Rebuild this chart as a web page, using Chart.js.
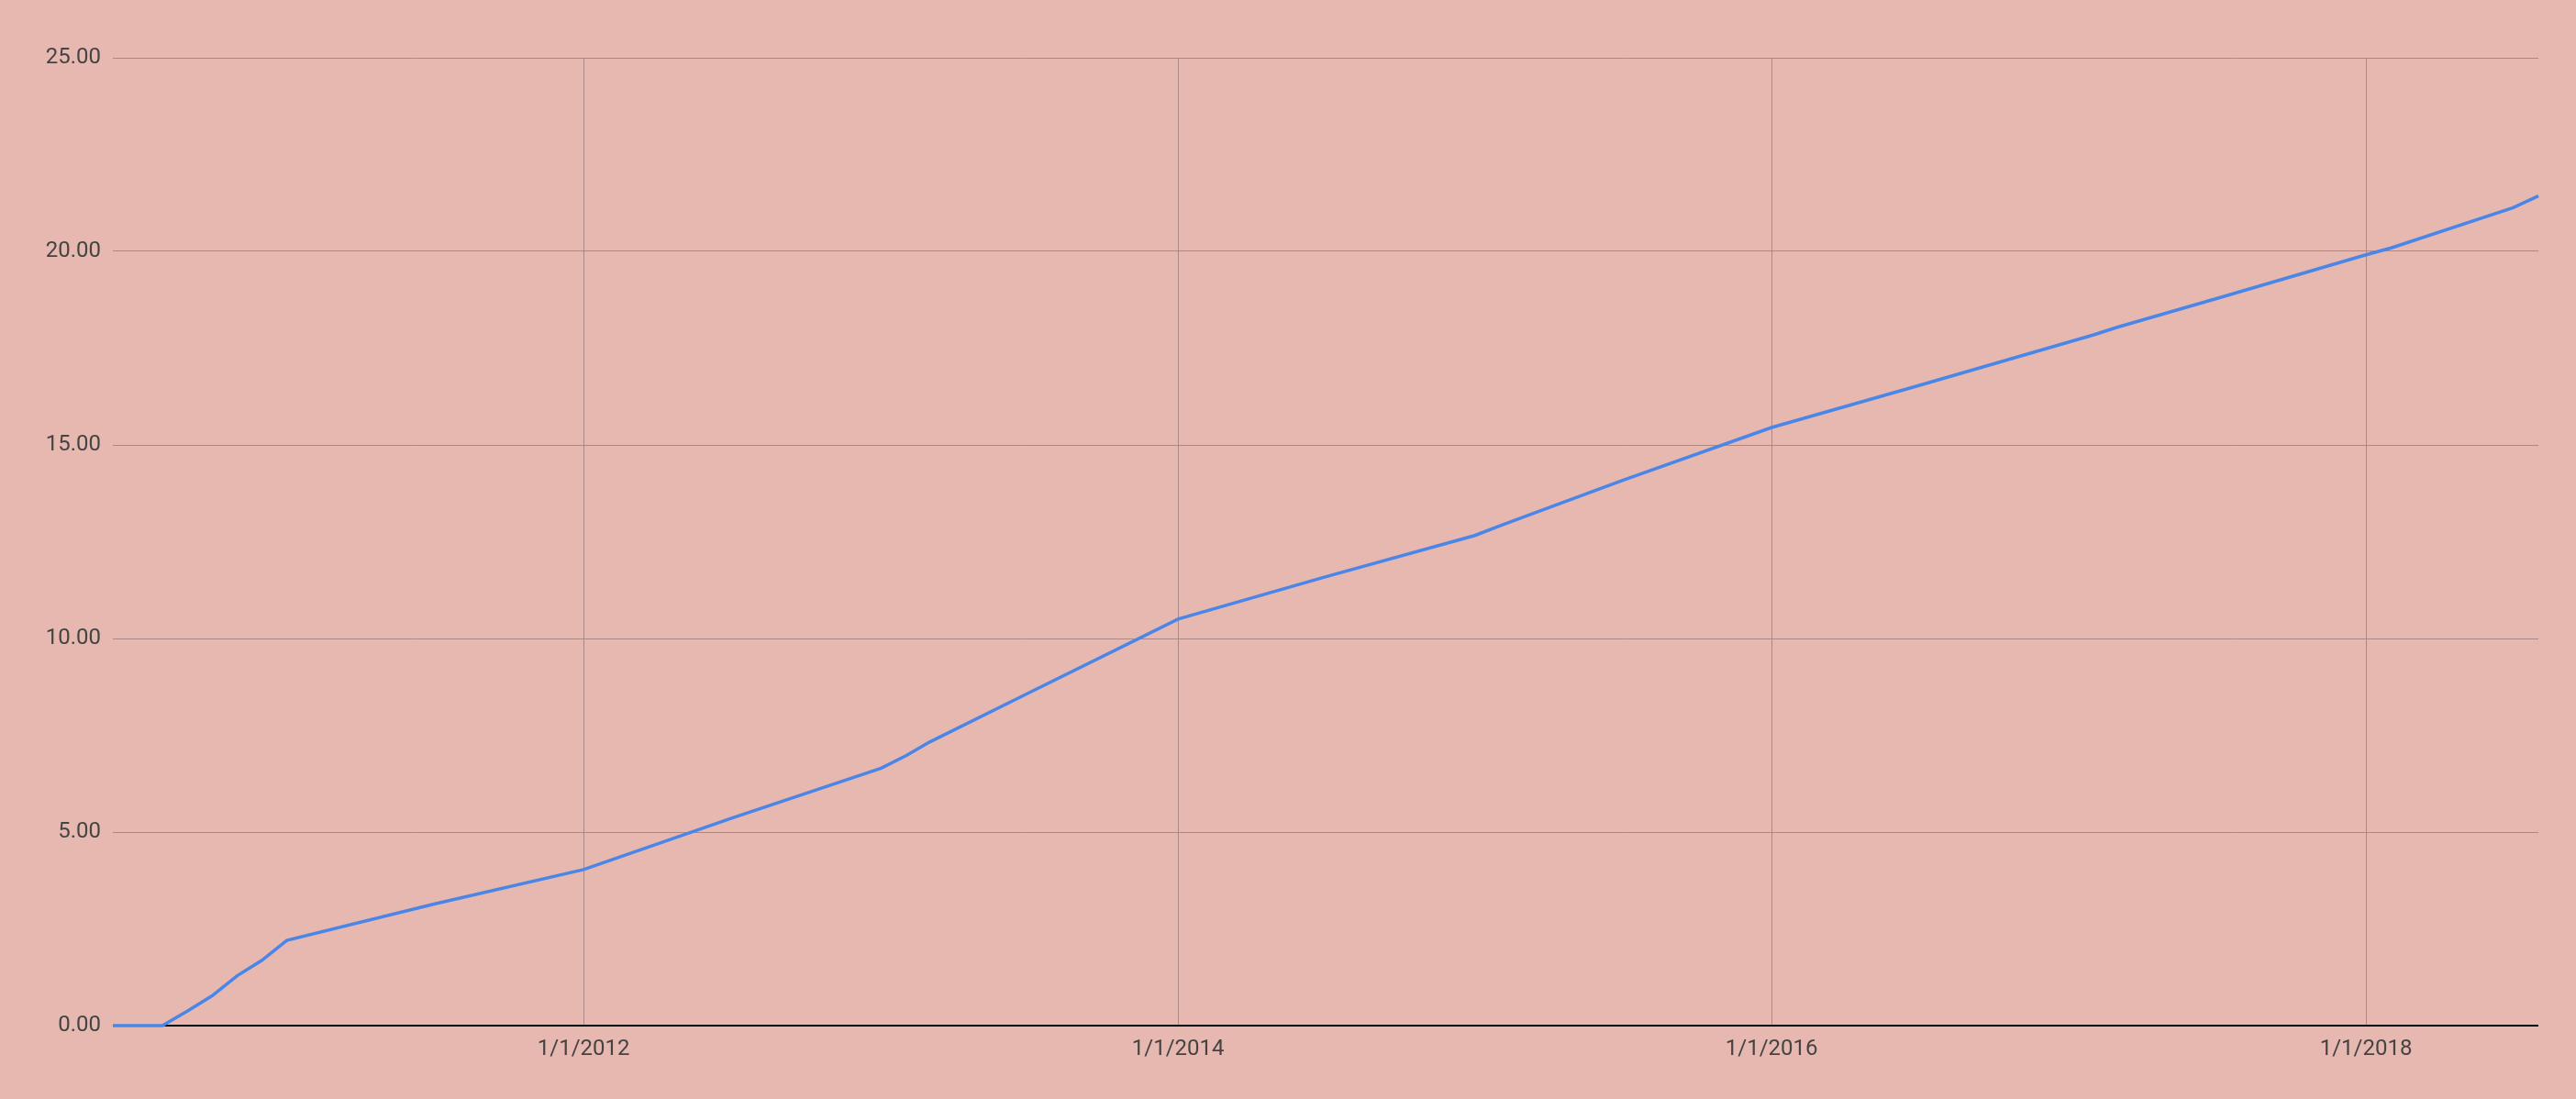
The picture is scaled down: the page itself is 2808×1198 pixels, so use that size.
<!DOCTYPE html>
<html>
<head>
<meta charset="utf-8">
<script src="https://cdn.jsdelivr.net/npm/chart.js@4/dist/chart.umd.min.js"></script>
<style>
  html, body { margin: 0; padding: 0; background: #E6B8AF; }
  #wrap { width: 2808px; height: 1198px; }
</style>
</head>
<body>
<div id="wrap"><canvas id="c" width="2808" height="1198"></canvas></div>
<script>
// ---- data ----
const dates = [
  '2010-06-01','2010-07-01','2010-08-01','2010-09-01','2010-10-01','2010-11-01','2010-12-01',
  '2011-01-01','2011-07-01','2012-01-01','2012-07-01',
  '2013-01-01','2013-02-01','2013-03-01','2013-07-01',
  '2014-01-01','2014-07-01',
  '2015-01-01','2015-02-01','2015-03-01','2015-07-01',
  '2016-01-01','2016-07-01',
  '2017-01-01','2017-02-01','2017-03-01','2017-07-01',
  '2018-01-01','2018-02-01','2018-07-01','2018-08-01'
];
const values = [
  0, 0, 0, 0.38, 0.77, 1.29, 1.68,
  2.20, 3.14, 4.03, 5.36,
  6.65, 6.98, 7.32, 8.59,
  10.50, 11.59,
  12.66, 12.91, 13.13, 14.08,
  15.45, 16.54,
  17.66, 17.85, 18.04, 18.78,
  19.91, 20.09, 21.13, 21.43
];
const xTickLabels = ['1/1/2012', '1/1/2014', '1/1/2016', '1/1/2018'];
const xRange = ['2010-06-01', '2018-08-01'];
const yTicks = [0, 5, 10, 15, 20, 25];

// ---- helpers ----
function isoToMs(s) { const p = s.split('-').map(Number); return Date.UTC(p[0], p[1] - 1, p[2]); }
function mdyToMs(s) { const p = s.split('/').map(Number); return Date.UTC(p[2], p[0] - 1, p[1]); }
function msToMdy(ms) { const d = new Date(ms); return (d.getUTCMonth() + 1) + '/' + d.getUTCDate() + '/' + d.getUTCFullYear(); }

const points = dates.map((d, i) => ({ x: isoToMs(d), y: values[i] }));
const xTickValues = xTickLabels.map(mdyToMs);

const PLOT_LEFT = 123, PLOT_TOP = 63, PLOT_RIGHT = 2767, PLOT_BOTTOM = 1118;
const W = 2808, H = 1198;

const bgPlugin = {
  id: 'bg',
  beforeDraw(chart) {
    const ctx = chart.ctx;
    ctx.save();
    ctx.fillStyle = '#E6B8AF';
    ctx.fillRect(0, 0, chart.width, chart.height);
    ctx.restore();
  }
};

new Chart(document.getElementById('c'), {
  type: 'line',
  data: {
    datasets: [{
      data: points,
      borderColor: '#4A86E8',
      borderWidth: 3.5,
      pointRadius: 0,
      pointHoverRadius: 0,
      tension: 0,
      fill: false,
      clip: false
    }]
  },
  options: {
    responsive: false,
    animation: false,
    devicePixelRatio: 1,
    layout: { padding: { top: PLOT_TOP, right: W - PLOT_RIGHT, left: 0, bottom: 0 } },
    plugins: { legend: { display: false }, tooltip: { enabled: false } },
    scales: {
      x: {
        type: 'linear',
        min: isoToMs(xRange[0]),
        max: isoToMs(xRange[1]),
        afterBuildTicks(scale) { scale.ticks = xTickValues.map(v => ({ value: v })); },
        afterFit(scale) { scale.height = H - PLOT_BOTTOM; },
        grid: { color: '#A98985', lineWidth: 1, drawTicks: false },
        border: { display: false },
        ticks: {
          autoSkip: false, maxRotation: 0, minRotation: 0,
          padding: 12,
          color: '#444444',
          font: { family: 'Roboto', size: 24 },
          callback: (v) => msToMdy(v)
        }
      },
      y: {
        min: yTicks[0],
        max: yTicks[yTicks.length - 1],
        afterBuildTicks(scale) { scale.ticks = yTicks.map(v => ({ value: v })); },
        afterFit(scale) { scale.width = PLOT_LEFT; },
        grid: {
          color: (c) => (c.tick && c.tick.value === 0) ? '#000000' : '#A98985',
          lineWidth: (c) => (c.tick && c.tick.value === 0) ? 2 : 1,
          drawTicks: false
        },
        border: { display: false },
        ticks: {
          padding: 13,
          color: '#444444',
          font: { family: 'Roboto', size: 24 },
          callback: (v) => Number(v).toFixed(2)
        }
      }
    }
  },
  plugins: [bgPlugin]
});
</script>
</body>
</html>
